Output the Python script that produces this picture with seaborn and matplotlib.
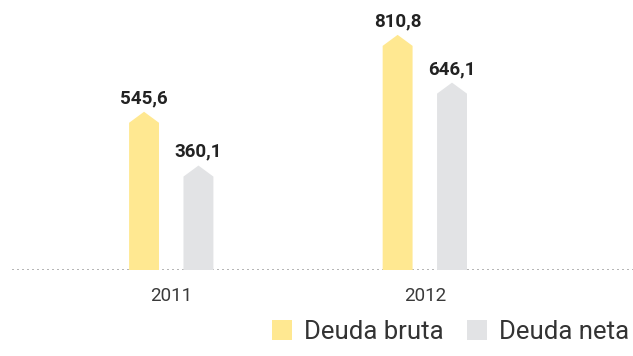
import matplotlib
matplotlib.use("Agg")
import matplotlib.pyplot as plt
from matplotlib.patches import Polygon, Patch
import seaborn as sns
import pandas as pd

years = ["2011", "2012"]
series = ["Deuda bruta", "Deuda neta"]
bruta = [545.6, 810.8]
neta = [360.1, 646.1]
colors = ["#FFE891", "#E2E3E5"]

df = pd.DataFrame({
    "year": years * 2,
    "serie": [series[0]] * 2 + [series[1]] * 2,
    "value": bruta + neta,
})

sns.set_theme(style="white")
plt.rcParams["font.family"] = ["Roboto", "DejaVu Sans"]

W, H = 633, 356
fig = plt.figure(figsize=(W / 100, H / 100), dpi=100)
ax = fig.add_axes([12 / W, 86 / H, (W - 12) / W, 250 / H])

sns.barplot(data=df, x="year", y="value", hue="serie", order=years,
            hue_order=series, palette=colors, width=0.429, gap=0.45,
            saturation=1, legend=False, ax=ax)

ax.set_ylim(0, 862)
ax.set_xlim(-0.628, 1.821)

# Replace each rectangle with an arrow-topped shape peaking at the value
cap = 38
for p in list(ax.patches):
    x, w, h = p.get_x(), p.get_width(), p.get_height()
    if h <= 0:
        continue
    verts = [(x, 0), (x, h - cap), (x + w / 2, h), (x + w, h - cap), (x + w, 0)]
    ax.add_patch(Polygon(verts, closed=True, facecolor=p.get_facecolor(),
                         edgecolor="none", zorder=2))
    p.set_visible(False)
    ax.text(x + w / 2, h + 16, f"{h:.1f}".replace(".", ","), ha="center",
            va="bottom", fontsize=13.5, fontweight="bold", color="#222222")

ax.axhline(0, color="#A8A8A8", lw=1.2, ls=(0, (1.2, 1.8)), zorder=1)

for s in ax.spines.values():
    s.set_visible(False)
ax.set_yticks([])
ax.set_xlabel("")
ax.set_ylabel("")
ax.tick_params(axis="x", length=0, pad=12, labelsize=13.5, labelcolor="#3a3a3a")

handles = [Patch(facecolor=c, edgecolor="none") for c in colors]
leg = fig.legend(handles, series, loc="lower right",
                 bbox_to_anchor=(1.018, -0.01), ncol=2, frameon=False,
                 fontsize=18.5, handlelength=0.8, handleheight=0.8,
                 handletextpad=0.45, columnspacing=0.9, borderaxespad=0.2)
for t in leg.get_texts():
    t.set_color("#333333")

fig.savefig("out.png", dpi=100)
